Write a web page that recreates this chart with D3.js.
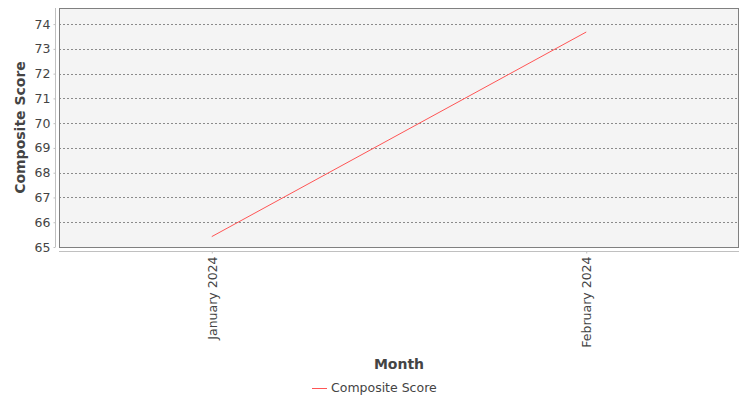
<!DOCTYPE html>
<html lang="en">
<head>
<meta charset="utf-8">
<title>Composite Score by Month</title>
<script src="https://d3js.org/d3.v7.min.js"></script>
<style>
body { margin: 0; background: #fff; }
text { font-family: "DejaVu Sans", sans-serif; }
</style>
</head>
<body>
<script>
// data
const months = ["January 2024", "February 2024"];
const scores = [65.42, 73.68];
const yTicks = [65, 66, 67, 68, 69, 70, 71, 72, 73, 74];
const seriesName = "Composite Score";

const width = 750, height = 400;
const plot = {left: 59, top: 8, right: 739, bottom: 247};

const svg = d3.select("body").append("svg")
    .attr("width", width)
    .attr("height", height);

const x = d3.scalePoint()
    .domain(months)
    .range([plot.left, plot.right])
    .padding(0.408);

const y = d3.scaleLinear()
    .domain([65, 74.65])
    .range([plot.bottom, plot.top]);

// plot background
svg.append("rect")
    .attr("x", plot.left).attr("y", plot.top)
    .attr("width", plot.right - plot.left)
    .attr("height", plot.bottom - plot.top)
    .attr("fill", "#f4f4f4");

// gridlines
svg.append("g")
    .selectAll("line")
    .data(yTicks)
    .join("line")
    .attr("x1", plot.left).attr("x2", plot.right)
    .attr("y1", d => Math.round(y(d)) + 0.5)
    .attr("y2", d => Math.round(y(d)) + 0.5)
    .attr("stroke", "#8a8a8a")
    .attr("stroke-width", 1)
    .attr("stroke-dasharray", "2,2");

// plot outline
svg.append("rect")
    .attr("x", plot.left + 0.5).attr("y", plot.top + 0.5)
    .attr("width", plot.right - plot.left - 1)
    .attr("height", plot.bottom - plot.top)
    .attr("fill", "none")
    .attr("stroke", "#808080");

// y axis
const yAxis = d3.axisLeft(y)
    .tickValues(yTicks)
    .tickSize(2)
    .tickPadding(3)
    .tickFormat(d3.format("d"));

const gy = svg.append("g")
    .attr("transform", "translate(55.5,0)")
    .call(yAxis);
gy.select(".domain").attr("stroke", "#c0c0c0").attr("d", `M0,${plot.top}V${plot.bottom}`);
gy.selectAll(".tick line").attr("stroke", "#c0c0c0");
gy.selectAll(".tick text")
    .attr("fill", "#444")
    .style("font-size", "12.5px")
    .style("font-family", "DejaVu Sans, sans-serif");

// x axis
const xAxis = d3.axisBottom(x)
    .tickSize(2)
    .tickPadding(4);

const gx = svg.append("g")
    .attr("transform", "translate(0,251.5)")
    .call(xAxis);
gx.select(".domain").attr("stroke", "#c0c0c0").attr("d", `M${plot.left},0H${plot.right}`);
gx.selectAll(".tick line").attr("stroke", "#c0c0c0");
gx.selectAll(".tick text")
    .attr("fill", "#444")
    .style("font-size", "12.5px")
    .style("font-family", "DejaVu Sans, sans-serif")
    .attr("transform", "rotate(-90)")
    .attr("text-anchor", "end")
    .attr("x", -5)
    .attr("y", 0)
    .attr("dy", "0.35em");

// axis titles
svg.append("text")
    .attr("x", (plot.left + plot.right) / 2)
    .attr("y", 369)
    .attr("text-anchor", "middle")
    .attr("fill", "#444")
    .style("font-size", "14px")
    .style("font-weight", "bold")
    .text("Month");

svg.append("text")
    .attr("transform", `translate(25,${(plot.top + plot.bottom) / 2}) rotate(-90)`)
    .attr("text-anchor", "middle")
    .attr("fill", "#444")
    .style("font-size", "14px")
    .style("font-weight", "bold")
    .text("Composite Score");

// line
const line = d3.line()
    .x((d, i) => x(months[i]))
    .y(d => y(d));

svg.append("path")
    .datum(scores)
    .attr("fill", "none")
    .attr("stroke", "#ff5555")
    .attr("stroke-width", 1)
    .attr("d", line);

// legend
const legend = svg.append("g").attr("transform", "translate(312,388)");
legend.append("line")
    .attr("x1", 0).attr("x2", 15)
    .attr("y1", 0.5).attr("y2", 0.5)
    .attr("stroke", "#ff5555");
legend.append("text")
    .attr("x", 19).attr("y", 0)
    .attr("dy", "0.35em")
    .attr("fill", "#444")
    .style("font-size", "12.5px")
    .text(seriesName);
</script>
</body>
</html>
